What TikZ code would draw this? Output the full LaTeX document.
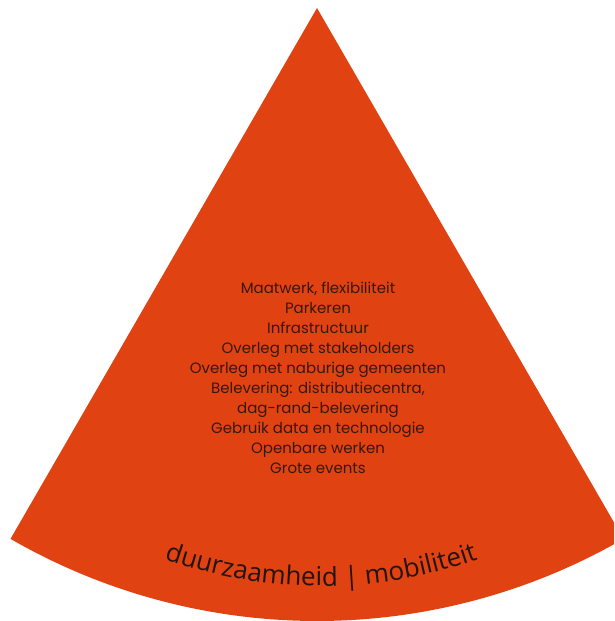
\documentclass[tikz,border=0pt]{standalone}
\usepackage{fontspec}
\setmainfont{Poppins}
\newfontfamily\curvefont{Open Sans}
\usetikzlibrary{decorations.text}

\definecolor{sectorred}{RGB}{225,66,18}
\definecolor{inkdark}{RGB}{35,20,14}
\definecolor{inklist}{RGB}{55,24,14}

\begin{document}
\begin{tikzpicture}[x=1pt, y=1pt]
        % Define styles for the texts
        \tikzset{
            list text/.style={align=center, text=inklist, font=\fontsize{15}{20}\selectfont}
        }

        % Fix the page size
        \useasboundingbox (0,0) rectangle (614,621);
        \clip (0,0) rectangle (614,621);

        % Draw the sector
        \coordinate (apex) at (317,613);
        \fill[sectorred] (apex) -- ++(240:613) arc[start angle=240, end angle=300, radius=613] -- cycle;

        % List of topics
        \node[list text] (topics) at (318,243) {Maatwerk, flexibiliteit\\
            Parkeren\\
            Infrastructuur\\
            Overleg met stakeholders\\
            Overleg met naburige gemeenten\\
            Belevering: distributiecentra,\\
            dag-rand-belevering\\
            Gebruik data en technologie\\
            Openbare werken\\
            Grote events};

        % Curved label along the bottom
        \coordinate (bend) at (321,507);
        \path[decorate, decoration={text along path, text format delimiters={[}{]},
                text={[\curvefont\fontsize{26}{26}\selectfont]duurzaamheid | mobiliteit},
                text align=center, text color=inkdark}]
            (bend) ++(240:472) arc[start angle=240, end angle=300, radius=472];

    \end{tikzpicture}
\end{document}
